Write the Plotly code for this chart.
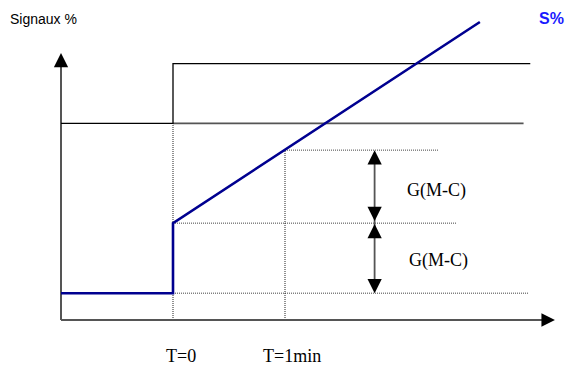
import plotly.graph_objects as go

# time in minutes (T=0 at the step), signal in %
t_origin = -1.0
t_axis_end = 3.41
y_axis_end = 89.6

# consigne (set point) step
consigne_t = [-1.0, 0.0, 0.0, 3.19]
consigne_y = [66, 66, 86, 86]
# measure line
mesure_t = [0.0, 3.13]
mesure_y = [66, 66]
# controller output S%
sortie_t = [-1.0, 0.0, 0.0, 2.74]
sortie_y = [9, 9, 32.5, 100]

# guide levels
guide_h = [  # (level, t start, t end)
    (57, 1.0, 2.37),
    (32.5, 0.0, 2.53),
    (9, 0.0, 3.17),
]
guide_v = [(0.0, 66), (1.0, 57)]  # (time, top)

arrow_t = 1.8
arrow_tips = [(57, 1), (33.2, -1), (32.2, 1), (9, -1)]  # (level, direction)
gain_label = "G(M-C)"
gain_pos = [(2.07, 43.6), (2.09, 20.1)]
time_ticks = [0.067, 1.058]
time_labels = ["T=0", "T=1min"]

px_per_min = 112
px_per_pct = 2.98
x_range = [-173 / px_per_min, 395 / px_per_min]
y_range = [-45 / px_per_pct, 320 / px_per_pct]

fig = go.Figure()

for lvl, t0, t1 in guide_h:
    fig.add_trace(go.Scatter(x=[t0, t1], y=[lvl, lvl], mode="lines",
                             line=dict(color="#444", width=1, dash="1px,1px")))
for tv, top in guide_v:
    fig.add_trace(go.Scatter(x=[tv, tv], y=[0, top], mode="lines",
                             line=dict(color="#222", width=1, dash="1px,1px")))

# axes shafts
fig.add_trace(go.Scatter(x=[t_origin, t_origin], y=[0, y_axis_end - 3], mode="lines",
                         line=dict(color="#555", width=2)))
fig.add_trace(go.Scatter(x=[t_origin, t_axis_end - 0.08], y=[0, 0], mode="lines",
                         line=dict(color="#555", width=2)))
# gain arrow shaft
fig.add_trace(go.Scatter(x=[arrow_t, arrow_t], y=[arrow_tips[0][0] - 3, arrow_tips[-1][0] + 3],
                         mode="lines", line=dict(color="#555", width=1.8)))

fig.add_trace(go.Scatter(x=mesure_t, y=mesure_y, mode="lines",
                         line=dict(color="#555", width=1.8)))
fig.add_trace(go.Scatter(x=consigne_t, y=consigne_y, mode="lines",
                         line=dict(color="black", width=1.3)))
fig.add_trace(go.Scatter(x=sortie_t, y=sortie_y, mode="lines",
                         line=dict(color="#000090", width=2.6)))


def head(x, y, ax, ay, size):
    fig.add_annotation(x=x, y=y, ax=ax, ay=ay, xref="x", yref="y", text="",
                       showarrow=True, arrowhead=2, arrowsize=size, arrowwidth=1.5,
                       arrowcolor="black", standoff=0)


head(t_origin, y_axis_end, 0, 14, 1.9)
head(t_axis_end, 0, -14, 0, 1.8)
for lvl, d in arrow_tips:
    head(arrow_t, lvl, 0, 13 * d, 1.9)

for (gx, gy) in gain_pos:
    fig.add_annotation(x=gx, y=gy, text=gain_label, showarrow=False, xanchor="left",
                       font=dict(family="Liberation Serif", size=18, color="black"))

for tv, lab in zip(time_ticks, time_labels):
    fig.add_annotation(x=tv, y=-12.1, text=lab, showarrow=False,
                       font=dict(family="Liberation Serif", size=18, color="black"))

fig.add_annotation(x=8 / 568, y=1 - 19 / 365, xref="paper", yref="paper", text="Signaux %",
                   showarrow=False, xanchor="left", yanchor="middle",
                   font=dict(family="Liberation Sans", size=14, color="black"))
fig.add_annotation(x=566 / 568, y=1 - 18 / 365, xref="paper", yref="paper", text="<b>S%</b>",
                   showarrow=False, xanchor="right", yanchor="middle",
                   font=dict(family="Liberation Sans", size=16, color="#1a1aff"))

fig.update_layout(
    width=568, height=365,
    margin=dict(l=0, r=0, t=0, b=0),
    paper_bgcolor="white", plot_bgcolor="white",
    showlegend=False,
    xaxis=dict(range=x_range, visible=False, fixedrange=True),
    yaxis=dict(range=y_range, visible=False, fixedrange=True),
)

fig.write_html("out.html", config={"displayModeBar": False},
               post_script="document.body.style.margin='0';")
